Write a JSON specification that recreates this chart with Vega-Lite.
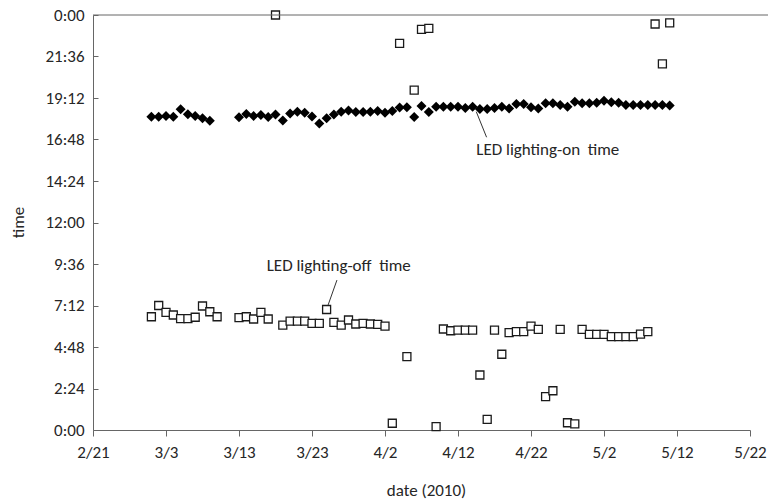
{
  "$schema": "https://vega.github.io/schema/vega-lite/v6.json",
  "width": 657,
  "height": 415,
  "autosize": {"type": "none"},
  "padding": {"left": 93, "top": 15, "right": 18, "bottom": 72},
  "background": "white",
  "config": {
    "view": {"stroke": null},
    "font": "Carlito, Lato, sans-serif",
    "axis": {
      "grid": false,
      "domainColor": "#666666",
      "tickColor": "#666666",
      "labelColor": "#262626",
      "titleColor": "#262626",
      "labelFont": "Carlito, Lato, sans-serif",
      "titleFont": "Carlito, Lato, sans-serif",
      "labelFontSize": 17,
      "titleFontSize": 17,
      "titleFontWeight": "normal"
    }
  },
  "datasets": {
    "points": [
      {"date": "2010/03/01", "time": 18.12, "series": "on"},
      {"date": "2010/03/02", "time": 18.12, "series": "on"},
      {"date": "2010/03/03", "time": 18.16, "series": "on"},
      {"date": "2010/03/04", "time": 18.12, "series": "on"},
      {"date": "2010/03/05", "time": 18.55, "series": "on"},
      {"date": "2010/03/06", "time": 18.26, "series": "on"},
      {"date": "2010/03/07", "time": 18.16, "series": "on"},
      {"date": "2010/03/08", "time": 18.03, "series": "on"},
      {"date": "2010/03/09", "time": 17.89, "series": "on"},
      {"date": "2010/03/13", "time": 18.08, "series": "on"},
      {"date": "2010/03/14", "time": 18.27, "series": "on"},
      {"date": "2010/03/15", "time": 18.16, "series": "on"},
      {"date": "2010/03/16", "time": 18.22, "series": "on"},
      {"date": "2010/03/17", "time": 18.10, "series": "on"},
      {"date": "2010/03/18", "time": 18.24, "series": "on"},
      {"date": "2010/03/19", "time": 17.90, "series": "on"},
      {"date": "2010/03/20", "time": 18.30, "series": "on"},
      {"date": "2010/03/21", "time": 18.41, "series": "on"},
      {"date": "2010/03/22", "time": 18.35, "series": "on"},
      {"date": "2010/03/23", "time": 18.13, "series": "on"},
      {"date": "2010/03/24", "time": 17.73, "series": "on"},
      {"date": "2010/03/25", "time": 18.03, "series": "on"},
      {"date": "2010/03/26", "time": 18.25, "series": "on"},
      {"date": "2010/03/27", "time": 18.41, "series": "on"},
      {"date": "2010/03/28", "time": 18.48, "series": "on"},
      {"date": "2010/03/29", "time": 18.39, "series": "on"},
      {"date": "2010/03/30", "time": 18.39, "series": "on"},
      {"date": "2010/03/31", "time": 18.41, "series": "on"},
      {"date": "2010/04/01", "time": 18.45, "series": "on"},
      {"date": "2010/04/02", "time": 18.35, "series": "on"},
      {"date": "2010/04/03", "time": 18.45, "series": "on"},
      {"date": "2010/04/04", "time": 18.65, "series": "on"},
      {"date": "2010/04/05", "time": 18.67, "series": "on"},
      {"date": "2010/04/06", "time": 18.10, "series": "on"},
      {"date": "2010/04/07", "time": 18.74, "series": "on"},
      {"date": "2010/04/08", "time": 18.39, "series": "on"},
      {"date": "2010/04/09", "time": 18.69, "series": "on"},
      {"date": "2010/04/10", "time": 18.69, "series": "on"},
      {"date": "2010/04/11", "time": 18.69, "series": "on"},
      {"date": "2010/04/12", "time": 18.69, "series": "on"},
      {"date": "2010/04/13", "time": 18.62, "series": "on"},
      {"date": "2010/04/14", "time": 18.69, "series": "on"},
      {"date": "2010/04/15", "time": 18.56, "series": "on"},
      {"date": "2010/04/16", "time": 18.56, "series": "on"},
      {"date": "2010/04/17", "time": 18.62, "series": "on"},
      {"date": "2010/04/18", "time": 18.69, "series": "on"},
      {"date": "2010/04/19", "time": 18.60, "series": "on"},
      {"date": "2010/04/20", "time": 18.85, "series": "on"},
      {"date": "2010/04/21", "time": 18.85, "series": "on"},
      {"date": "2010/04/22", "time": 18.66, "series": "on"},
      {"date": "2010/04/23", "time": 18.60, "series": "on"},
      {"date": "2010/04/24", "time": 18.89, "series": "on"},
      {"date": "2010/04/25", "time": 18.89, "series": "on"},
      {"date": "2010/04/26", "time": 18.79, "series": "on"},
      {"date": "2010/04/27", "time": 18.70, "series": "on"},
      {"date": "2010/04/28", "time": 18.99, "series": "on"},
      {"date": "2010/04/29", "time": 18.89, "series": "on"},
      {"date": "2010/04/30", "time": 18.90, "series": "on"},
      {"date": "2010/05/01", "time": 18.93, "series": "on"},
      {"date": "2010/05/02", "time": 19.04, "series": "on"},
      {"date": "2010/05/03", "time": 18.95, "series": "on"},
      {"date": "2010/05/04", "time": 18.93, "series": "on"},
      {"date": "2010/05/05", "time": 18.79, "series": "on"},
      {"date": "2010/05/06", "time": 18.80, "series": "on"},
      {"date": "2010/05/07", "time": 18.80, "series": "on"},
      {"date": "2010/05/08", "time": 18.80, "series": "on"},
      {"date": "2010/05/09", "time": 18.80, "series": "on"},
      {"date": "2010/05/10", "time": 18.80, "series": "on"},
      {"date": "2010/05/11", "time": 18.76, "series": "on"},
      {"date": "2010/03/01", "time": 6.55, "series": "off"},
      {"date": "2010/03/02", "time": 7.20, "series": "off"},
      {"date": "2010/03/03", "time": 6.80, "series": "off"},
      {"date": "2010/03/04", "time": 6.65, "series": "off"},
      {"date": "2010/03/05", "time": 6.44, "series": "off"},
      {"date": "2010/03/06", "time": 6.44, "series": "off"},
      {"date": "2010/03/07", "time": 6.52, "series": "off"},
      {"date": "2010/03/08", "time": 7.17, "series": "off"},
      {"date": "2010/03/09", "time": 6.84, "series": "off"},
      {"date": "2010/03/10", "time": 6.55, "series": "off"},
      {"date": "2010/03/13", "time": 6.50, "series": "off"},
      {"date": "2010/03/14", "time": 6.55, "series": "off"},
      {"date": "2010/03/15", "time": 6.42, "series": "off"},
      {"date": "2010/03/16", "time": 6.80, "series": "off"},
      {"date": "2010/03/17", "time": 6.42, "series": "off"},
      {"date": "2010/03/18", "time": 24.0, "series": "off"},
      {"date": "2010/03/19", "time": 6.07, "series": "off"},
      {"date": "2010/03/20", "time": 6.30, "series": "off"},
      {"date": "2010/03/21", "time": 6.30, "series": "off"},
      {"date": "2010/03/22", "time": 6.30, "series": "off"},
      {"date": "2010/03/23", "time": 6.17, "series": "off"},
      {"date": "2010/03/24", "time": 6.17, "series": "off"},
      {"date": "2010/03/25", "time": 6.97, "series": "off"},
      {"date": "2010/03/26", "time": 6.22, "series": "off"},
      {"date": "2010/03/27", "time": 6.07, "series": "off"},
      {"date": "2010/03/28", "time": 6.36, "series": "off"},
      {"date": "2010/03/29", "time": 6.13, "series": "off"},
      {"date": "2010/03/30", "time": 6.17, "series": "off"},
      {"date": "2010/03/31", "time": 6.13, "series": "off"},
      {"date": "2010/04/01", "time": 6.11, "series": "off"},
      {"date": "2010/04/02", "time": 6.01, "series": "off"},
      {"date": "2010/04/03", "time": 0.39, "series": "off"},
      {"date": "2010/04/04", "time": 22.36, "series": "off"},
      {"date": "2010/04/05", "time": 4.24, "series": "off"},
      {"date": "2010/04/06", "time": 19.66, "series": "off"},
      {"date": "2010/04/07", "time": 23.17, "series": "off"},
      {"date": "2010/04/08", "time": 23.23, "series": "off"},
      {"date": "2010/04/09", "time": 0.19, "series": "off"},
      {"date": "2010/04/10", "time": 5.84, "series": "off"},
      {"date": "2010/04/11", "time": 5.74, "series": "off"},
      {"date": "2010/04/12", "time": 5.78, "series": "off"},
      {"date": "2010/04/13", "time": 5.78, "series": "off"},
      {"date": "2010/04/14", "time": 5.78, "series": "off"},
      {"date": "2010/04/15", "time": 3.18, "series": "off"},
      {"date": "2010/04/16", "time": 0.62, "series": "off"},
      {"date": "2010/04/17", "time": 5.78, "series": "off"},
      {"date": "2010/04/18", "time": 4.38, "series": "off"},
      {"date": "2010/04/19", "time": 5.63, "series": "off"},
      {"date": "2010/04/20", "time": 5.69, "series": "off"},
      {"date": "2010/04/21", "time": 5.69, "series": "off"},
      {"date": "2010/04/22", "time": 6.01, "series": "off"},
      {"date": "2010/04/23", "time": 5.82, "series": "off"},
      {"date": "2010/04/24", "time": 1.93, "series": "off"},
      {"date": "2010/04/25", "time": 2.27, "series": "off"},
      {"date": "2010/04/26", "time": 5.82, "series": "off"},
      {"date": "2010/04/27", "time": 0.42, "series": "off"},
      {"date": "2010/04/28", "time": 0.35, "series": "off"},
      {"date": "2010/04/29", "time": 5.82, "series": "off"},
      {"date": "2010/04/30", "time": 5.53, "series": "off"},
      {"date": "2010/05/01", "time": 5.53, "series": "off"},
      {"date": "2010/05/02", "time": 5.53, "series": "off"},
      {"date": "2010/05/03", "time": 5.40, "series": "off"},
      {"date": "2010/05/04", "time": 5.40, "series": "off"},
      {"date": "2010/05/05", "time": 5.40, "series": "off"},
      {"date": "2010/05/06", "time": 5.40, "series": "off"},
      {"date": "2010/05/07", "time": 5.55, "series": "off"},
      {"date": "2010/05/08", "time": 5.69, "series": "off"},
      {"date": "2010/05/09", "time": 23.48, "series": "off"},
      {"date": "2010/05/10", "time": 21.17, "series": "off"},
      {"date": "2010/05/11", "time": 23.55, "series": "off"}
    ],
    "notes": [
      {"date": "2010/04/14 12:00", "time": 16.19, "label": "LED lighting-on\u00a0 time"},
      {"date": "2010/03/16 19:00", "time": 9.48, "label": "LED lighting-off\u00a0 time"}
    ],
    "leaders": [
      {"d1": "2010/04/14 12:00", "d2": "2010/04/15 22:00", "t1": 18.41, "t2": 16.93},
      {"d1": "2010/03/26 10:00", "d2": "2010/03/25 05:00", "t1": 8.67, "t2": 7.23}
    ],
    "frame": [
      {"d1": "2010/02/21", "d2": "2010/05/25", "t": 24}
    ]
  },
  "layer": [
    {
      "data": {"name": "points"},
      "transform": [{"filter": "datum.series === 'on'"}],
      "mark": {"type": "point", "shape": "diamond", "filled": true, "color": "#000000", "size": 100, "opacity": 1},
      "encoding": {
        "x": {
          "field": "date",
          "type": "temporal",
          "scale": {"domain": [{"year": 2010, "month": 2, "date": 21}, {"year": 2010, "month": 5, "date": 22}]},
          "axis": {
            "title": "date (2010)",
            "values": [
              {"year": 2010, "month": 2, "date": 21},
              {"year": 2010, "month": 3, "date": 3},
              {"year": 2010, "month": 3, "date": 13},
              {"year": 2010, "month": 3, "date": 23},
              {"year": 2010, "month": 4, "date": 2},
              {"year": 2010, "month": 4, "date": 12},
              {"year": 2010, "month": 4, "date": 22},
              {"year": 2010, "month": 5, "date": 2},
              {"year": 2010, "month": 5, "date": 12},
              {"year": 2010, "month": 5, "date": 22}
            ],
            "format": "%-m/%-d",
            "labelFlush": false,
            "labelOverlap": false,
            "tickSize": 6,
            "labelPadding": 8,
            "titleX": 333,
            "titleY": 60,
            "titleBaseline": "middle"
          }
        },
        "y": {
          "field": "time",
          "type": "quantitative",
          "scale": {"domain": [0, 24], "nice": false, "zero": false},
          "axis": {
            "title": "time",
            "values": [0, 2.4, 4.8, 7.2, 9.6, 12, 14.4, 16.8, 19.2, 21.6, 24],
            "labelExpr": "floor(datum.value % 24) + ':' + (round((datum.value % 1) * 60) < 10 ? '0' : '') + round((datum.value % 1) * 60)",
            "tickSize": -5,
            "labelPadding": 14,
            "titleX": -75,
            "titleY": 207,
            "titleBaseline": "middle",
            "titleAngle": -90
          }
        }
      }
    },
    {
      "data": {"name": "points"},
      "transform": [{"filter": "datum.series === 'off'"}],
      "mark": {"type": "point", "shape": "square", "filled": true, "fill": "#ffffff", "stroke": "#1a1a1a", "strokeWidth": 1.3, "size": 64, "opacity": 1},
      "encoding": {
        "x": {"field": "date", "type": "temporal"},
        "y": {"field": "time", "type": "quantitative"}
      }
    },
    {
      "data": {"name": "frame"},
      "mark": {"type": "rule", "color": "#666666", "strokeWidth": 1},
      "encoding": {
        "x": {"field": "d1", "type": "temporal"},
        "x2": {"field": "d2"},
        "y": {"field": "t", "type": "quantitative"}
      }
    },
    {
      "data": {"name": "leaders"},
      "mark": {"type": "rule", "color": "#333333", "strokeWidth": 1},
      "encoding": {
        "x": {"field": "d1", "type": "temporal"},
        "x2": {"field": "d2"},
        "y": {"field": "t1", "type": "quantitative"},
        "y2": {"field": "t2"}
      }
    },
    {
      "data": {"name": "notes"},
      "mark": {"type": "text", "align": "left", "baseline": "middle", "fontSize": 17, "color": "#262626", "font": "Carlito, Lato, sans-serif"},
      "encoding": {
        "x": {"field": "date", "type": "temporal"},
        "y": {"field": "time", "type": "quantitative"},
        "text": {"field": "label"}
      }
    }
  ]
}
